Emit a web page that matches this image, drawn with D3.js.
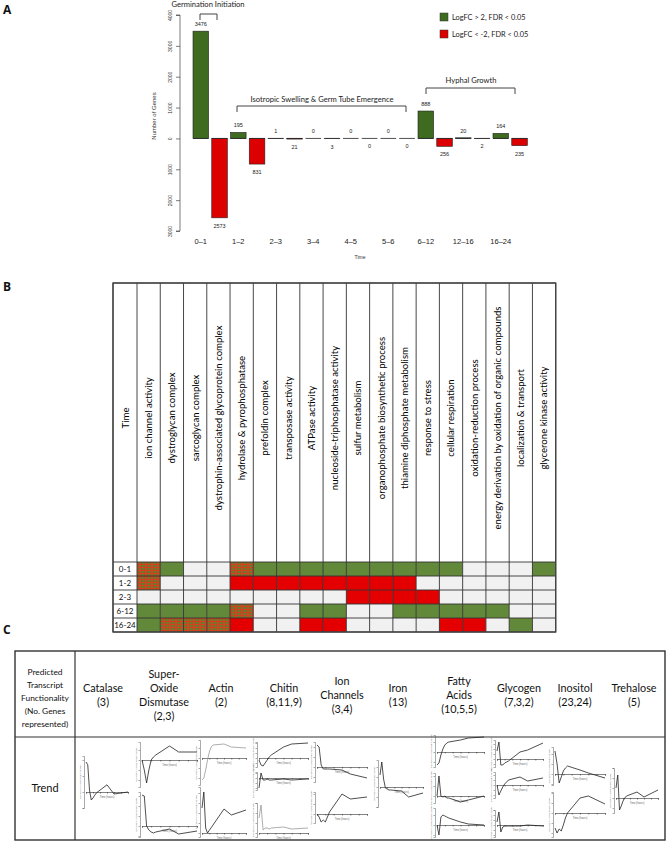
<!DOCTYPE html>
<html><head><meta charset="utf-8">
<script src="https://cdn.jsdelivr.net/npm/d3@7"></script>
<style>body{margin:0;background:#fff}svg{display:block}</style>
</head><body>
<svg id="chart" width="668" height="841"></svg>
<script>
// ---------- Panel A data ----------
const timeLabels = ["0\u20131","1\u20132","2\u20133","3\u20134","4\u20135","5\u20136","6\u201312","12\u201316","16\u201324"];
const upGenes   = [3476,195,1,0,0,0,888,20,164];
const downGenes = [2573,831,21,3,0,0,256,2,235];
const yTickValues = [4000,3000,2000,1000,0,-1000,-2000,-3000];
const legendLabels = ["LogFC > 2, FDR < 0.05","LogFC < -2, FDR < 0.05"];
const phaseLabels = ["Germination Initiation","Isotropic Swelling & Germ Tube Emergence","Hyphal Growth"];

// ---------- Panel B data ----------
const goTerms = ["ion channel activity","dystroglycan complex","sarcoglycan complex","dystrophin-associated glycoprotein complex","hydrolase & pyrophosphatase","prefoldin complex","transposase activity","ATPase activity","nucleoside-triphosphatase activity","sulfur metabolism","organophosphate biosynthetic process","thiamine diphosphate metabolism","response to stress","cellular respiration","oxidation-reduction process","energy derivation by oxidation of organic compounds","localization & transport","glycerone kinase activity"];
const heatRows = ["0-1","1-2","2-3","6-12","16-24"];
// 1 = up, -1 = down, 2 = both, 0 = none
const heat_0_1   = [2,1,0,0,2,1,1,1,1,1,1,1,1,1,0,0,0,1];
const heat_1_2   = [2,0,0,0,-1,-1,-1,-1,-1,-1,-1,-1,0,0,0,0,0,0];
const heat_2_3   = [0,0,0,0,0,0,0,0,0,-1,-1,-1,-1,0,0,0,0,0];
const heat_6_12  = [1,1,1,1,2,0,0,1,1,0,0,1,1,1,1,1,0,0];
const heat_16_24 = [1,2,2,2,-1,0,0,-1,-1,0,0,0,0,-1,-1,0,1,0];

// ---------- Panel C data ----------
const functionLabel = ["Predicted","Transcript","Functionality","(No. Genes","represented)"];
const categories = [["Catalase","(3)"],["Super-","Oxide","Dismutase","(2,3)"],["Actin","(2)"],["Chitin","(8,11,9)"],["Ion","Channels","(3,4)"],["Iron","(13)"],["Fatty","Acids","(10,5,5)"],["Glycogen","(7,3,2)"],["Inositol","(23,24)"],["Trehalose","(5)"]];
const trendHours = [0,1,2,3,4,5,6,12,16,24];
const catalaseTrend = [3.75,3.4,0.25,-1.0,-0.75,-0.4,-0.1,0.9,-0.25,0];
const sodTrendA = [0,-1.0,-2.3,-1.0,0,0.3,0.5,1.4,0.8,0.8];
const sodTrendB = [3.1,3.0,0,-0.4,-0.6,-0.7,-0.6,-0.3,-0.8,-0.5];
const actinTrendA = [-2.2,-2.0,-1.2,-0.2,0.6,1.1,1.3,1.4,1.1,1.0];
const actinTrendB = [2.5,4.1,0.5,0,0.27,0.53,0.8,2.4,1.8,2.3];
const chitinTrendA = [-0.2,-0.7,-0.8,-0.5,-0.2,0.1,0.3,1.1,1.4,1.5];
const chitinTrendB = [-1.0,0.5,-0.2,-0.2,-0.1,-0.2,-0.2,-0.1,-0.2,-0.1];
const chitinTrendC = [1.5,2.8,0.3,0.5,0.5,0.4,0.5,0.6,0.4,0.5];
const ionTrendA = [2.2,2.0,0.2,-0.2,-0.2,-0.2,-0.2,-0.3,-0.7,-1.1];
const ionTrendB = [0,-0.3,-0.8,-0.6,-0.8,-0.3,0.2,2.0,1.5,1.7];
const ironTrend = [1.2,2.5,0.8,-0.1,-0.2,-0.3,-0.3,-0.4,-1.0,-0.6];
const fattyTrendA = [-1.3,-1.1,-0.3,0.3,0.7,0.9,1.0,1.2,1.4,1.5];
const fattyTrendB = [0,2.0,0,-0.1,0,-0.2,-0.2,-0.6,-0.4,0];
const fattyTrendC = [0,-1.0,0.8,1.0,0.9,0.8,0.7,0.3,0.1,0];
const glycogenTrendA = [0.8,1.7,-0.6,-0.6,-0.4,-0.3,-0.2,0.7,0.9,1.6];
const glycogenTrendB = [0,-1.0,-0.6,-0.2,0.1,0.3,0.5,0.8,0.4,0.7];
const glycogenTrendC = [0.3,1.3,-0.7,-0.2,-0.1,-0.1,-0.1,-0.1,0,-0.1];
const inositolTrendA = [2.3,1.0,-0.9,-0.3,0.3,0.6,0.8,0.4,0.1,-0.4];
const inositolTrendB = [-1.5,-2.0,-1.6,-1.8,-1.2,-0.5,0,1.5,1.7,0.9];
const trehaloseTrend = [1.0,2.3,-1.2,-0.8,-0.3,0,0.2,0.6,0.1,0.8];

// ---------- drawing ----------
const svg = d3.select("#chart");
svg.append("rect").attr("width",668).attr("height",841).attr("fill","#fff");
const GREEN_BAR = "#3e6b1f", RED_BAR = "#dd0000";
const GREEN_CELL = "#62893a", RED_CELL = "#e40000", EMPTY_CELL = "#f1f1f1";
const calibri = "Lato, 'Open Sans', sans-serif";
const helv = "'Liberation Sans', Arial, sans-serif";

// panel letters
[["A",3,14],["B",3,291],["C",3,634]].forEach(([t,x,y])=>{
  svg.append("text").attr("x",x).attr("y",y).text(t)
    .attr("font-family","'Open Sans', sans-serif").attr("font-weight","bold").attr("font-size",12).attr("fill","#111");
});

// ===== Panel A =====
const gA = svg.append("g");
const yA = d3.scaleLinear().domain([-3000,4000]).range([231,15]);
const barIdx = d3.range(timeLabels.length*2);
const xA = d3.scaleBand().domain(barIdx).range([189.85,530.5]).paddingInner(0.168).paddingOuter(0.168);
const bars = [];
timeLabels.forEach((t,i)=>{
  bars.push({i:2*i, v:upGenes[i], up:true});
  bars.push({i:2*i+1, v:-downGenes[i], up:false});
});
gA.selectAll("rect.bar").data(bars).join("rect").attr("class","bar")
  .attr("x",d=>xA(d.i)).attr("width",xA.bandwidth())
  .attr("y",d=>yA(Math.max(0,d.v))).attr("height",d=>Math.abs(yA(d.v)-yA(0)))
  .attr("fill",d=>d.up?GREEN_BAR:RED_BAR).attr("stroke","#222").attr("stroke-width",0.6);
gA.selectAll("line.base").data(bars).join("line").attr("class","base")
  .attr("x1",d=>xA(d.i)).attr("x2",d=>xA(d.i)+xA.bandwidth())
  .attr("y1",yA(0)).attr("y2",yA(0)).attr("stroke","#222").attr("stroke-width",0.8);
gA.selectAll("text.val").data(bars).join("text").attr("class","val")
  .attr("x",d=>xA(d.i)+xA.bandwidth()/2)
  .attr("y",d=>d.up? yA(d.v)-5 : yA(d.v)+10)
  .attr("text-anchor","middle").attr("font-family",helv).attr("font-size",5.5).attr("fill","#222")
  .text(d=>Math.abs(d.v));
// y axis
const axA = d3.axisLeft(yA).tickValues(yTickValues).tickSize(4).tickFormat(d=>Math.abs(d));
const gAx = gA.append("g").attr("transform","translate(180,0)").call(axA);
gAx.select(".domain").attr("stroke","#444").attr("stroke-width",0.7).attr("d","M-4,"+yA(4000)+"H0V"+yA(-3000)+"H-4");
gAx.selectAll(".tick line").attr("stroke","#444").attr("stroke-width",0.7);
gAx.selectAll(".tick text").attr("font-family",helv).attr("font-size",5).attr("fill","#333")
  .attr("x",0).attr("y",0).attr("dy",0).attr("text-anchor","middle")
  .attr("transform","translate(-8,0) rotate(-90)");
gA.append("text").attr("transform","translate(156,116) rotate(-90)").attr("text-anchor","middle")
  .attr("font-family",helv).attr("font-size",6).attr("fill","#333").text("Number of Genes");
// x labels
gA.selectAll("text.xl").data(timeLabels).join("text").attr("class","xl")
  .attr("x",(d,i)=>xA(2*i)+xA.bandwidth()/2).attr("y",244)
  .attr("text-anchor","middle").attr("font-family",helv).attr("font-size",7.5).attr("fill","#222").text(d=>d);
gA.append("text").attr("x",360).attr("y",259).attr("text-anchor","middle")
  .attr("font-family",helv).attr("font-size",5).attr("fill","#333").text("Time");
// brackets
const brackets = [
  {label:phaseLabels[0], x1:200, x2:217, y:14, ty:7, tx:208},
  {label:phaseLabels[1], x1:237, x2:406, y:106, ty:102, tx:322},
  {label:phaseLabels[2], x1:426, x2:515, y:88, ty:83, tx:471}
];
brackets.forEach(b=>{
  gA.append("path").attr("d",`M${b.x1},${b.y+6}V${b.y}H${b.x2}V${b.y+6}`)
    .attr("fill","none").attr("stroke","#444").attr("stroke-width",1);
  gA.append("text").attr("x",b.tx).attr("y",b.ty).attr("text-anchor","middle")
    .attr("font-family",calibri).attr("font-size",7.6).attr("fill","#222").text(b.label);
});
// legend
legendLabels.forEach((l,i)=>{
  gA.append("rect").attr("x",440).attr("y",13+i*17).attr("width",8).attr("height",8)
    .attr("fill",i===0?GREEN_BAR:RED_BAR).attr("stroke","#333").attr("stroke-width",0.5);
  gA.append("text").attr("x",452).attr("y",20+i*17).attr("font-family",calibri).attr("font-size",7.4)
    .attr("fill","#222").text(l);
});

// ===== Panel B =====
const defs = svg.append("defs");
const pat = defs.append("pattern").attr("id","hatch").attr("patternUnits","userSpaceOnUse")
  .attr("width",3).attr("height",3);
pat.append("rect").attr("width",3).attr("height",3).attr("fill","#6d7a2c");
pat.append("path").attr("d","M0,0.5H3M0.5,0V3").attr("stroke","#d2401e").attr("stroke-width",1);

const gB = svg.append("g");
const tblLeft = 113, tblTop = 283, headBottom = 562, rowH = 14;
const xB = d3.scaleBand().domain(goTerms).range([137,555.7]);
const yB = d3.scaleBand().domain(heatRows).range([headBottom, headBottom+rowH*heatRows.length]);
const heatData = [heat_0_1,heat_1_2,heat_2_3,heat_6_12,heat_16_24];
const cells = [];
heatData.forEach((r,ri)=>r.forEach((v,ci)=>cells.push({row:heatRows[ri],col:goTerms[ci],v})));
gB.selectAll("rect.cell").data(cells).join("rect").attr("class","cell")
  .attr("x",d=>xB(d.col)).attr("y",d=>yB(d.row)).attr("width",xB.bandwidth()).attr("height",yB.bandwidth())
  .attr("fill",d=>d.v===1?GREEN_CELL:d.v===-1?RED_CELL:d.v===2?"url(#hatch)":EMPTY_CELL);
gB.selectAll("rect.tc").data(heatRows).join("rect").attr("class","tc")
  .attr("x",tblLeft).attr("y",d=>yB(d)).attr("width",137-tblLeft).attr("height",yB.bandwidth()).attr("fill","#fff");
const tblRight = 555.7, tblBottom = headBottom+rowH*heatRows.length;
const vx = [tblLeft,137].concat(goTerms.map(g=>xB(g)+xB.bandwidth()));
gB.selectAll("line.v").data(vx).join("line").attr("class","v")
  .attr("x1",d=>d).attr("x2",d=>d).attr("y1",tblTop).attr("y2",tblBottom)
  .attr("stroke","#333").attr("stroke-width",0.9);
const hy = [tblTop, headBottom].concat(heatRows.map(r=>yB(r)+yB.bandwidth()));
gB.selectAll("line.h").data(hy).join("line").attr("class","h")
  .attr("x1",tblLeft).attr("x2",tblRight).attr("y1",d=>d).attr("y2",d=>d)
  .attr("stroke","#333").attr("stroke-width",0.9);
gB.append("rect").attr("x",tblLeft).attr("y",tblTop).attr("width",tblRight-tblLeft).attr("height",tblBottom-tblTop)
  .attr("fill","none").attr("stroke","#444").attr("stroke-width",1.4);
const headMid = 418;
gB.append("text").attr("transform",`translate(${(tblLeft+137)/2+3.5},${headMid}) rotate(-90)`)
  .attr("text-anchor","middle").attr("font-family",calibri).attr("font-size",9.6).attr("fill","#000").text("Time");
gB.selectAll("text.go").data(goTerms).join("text").attr("class","go")
  .attr("transform",d=>`translate(${xB(d)+xB.bandwidth()/2+3.4},${headMid}) rotate(-90)`)
  .attr("text-anchor","middle").attr("font-family",calibri).attr("font-size",9.6).attr("fill","#000").text(d=>d);
gB.selectAll("text.rl").data(heatRows).join("text").attr("class","rl")
  .attr("x",(tblLeft+137)/2).attr("y",d=>yB(d)+yB.bandwidth()/2+3)
  .attr("text-anchor","middle").attr("font-family",calibri).attr("font-size",8).attr("fill","#111").text(d=>d);

// ===== Panel C =====
const gC = svg.append("g");
const cL = 15, cR = 665, cT = 651, cMid = 737, cB = 840, cDiv = 75;
gC.append("rect").attr("x",cL).attr("y",cT).attr("width",cR-cL).attr("height",cB-cT)
  .attr("fill","none").attr("stroke","#333").attr("stroke-width",1.4);
gC.append("line").attr("x1",cL).attr("x2",cR).attr("y1",cMid).attr("y2",cMid).attr("stroke","#333").attr("stroke-width",1.2);
gC.append("line").attr("x1",cDiv).attr("x2",cDiv).attr("y1",cT).attr("y2",cB).attr("stroke","#333").attr("stroke-width",1.2);
const fcT = gC.append("text").attr("text-anchor","middle").attr("font-family",calibri).attr("font-size",8.4).attr("fill","#111");
functionLabel.forEach((l,i)=>fcT.append("tspan").attr("x",45).attr("y",698+(i-2)*13.2+3).text(l));
gC.append("text").attr("x",45).attr("y",792).attr("text-anchor","middle").attr("font-family",calibri)
  .attr("font-size",11).attr("fill","#111").text("Trend");
const catCenters = [103,164,221,284,342,398,459,519,575,634];
categories.forEach((lines,ci)=>{
  const t = gC.append("text").attr("text-anchor","middle").attr("font-family",calibri).attr("font-size",10.8).attr("fill","#111");
  const n = lines.length;
  lines.forEach((l,i)=>t.append("tspan").attr("x",catCenters[ci]).attr("y",695+(i-(n-1)/2)*14+4).text(l));
});
const minis = [
  {s:catalaseTrend, x:[86,128], y:[756,808], d:[-2,4.5]},
  {s:sodTrendA, x:[142,197], y:[742,787], d:[-2.7,1.8]},
  {s:sodTrendB, x:[142,197], y:[792,837], d:[-1.1,3.4]},
  {s:actinTrendA, x:[202,246], y:[740,785], d:[-2.7,1.8], c:"#999"},
  {s:actinTrendB, x:[202,246], y:[787,837], d:[-0.4,4.6]},
  {s:chitinTrendA, x:[259,308], y:[742,767], d:[-0.9,1.6]},
  {s:chitinTrendB, x:[259,308], y:[772,790], d:[-1.2,0.6]},
  {s:chitinTrendC, x:[259,308], y:[803,837], d:[-0.4,3.0], c:"#999"},
  {s:ionTrendA, x:[317,367], y:[742,782], d:[-1.5,2.5]},
  {s:ionTrendB, x:[317,367], y:[792,823], d:[-0.9,2.2]},
  {s:ironTrend, x:[380,423], y:[760,807], d:[-2.0,2.7]},
  {s:fattyTrendA, x:[437,484], y:[735,767], d:[-1.5,1.7]},
  {s:fattyTrendB, x:[437,484], y:[773,803], d:[-0.7,2.3]},
  {s:fattyTrendC, x:[437,484], y:[808,837], d:[-1.2,1.7]},
  {s:glycogenTrendA, x:[497,543], y:[740,767], d:[-0.8,1.9]},
  {s:glycogenTrendB, x:[497,543], y:[772,798], d:[-1.3,1.3]},
  {s:glycogenTrendC, x:[497,543], y:[810,837], d:[-1.2,1.5]},
  {s:inositolTrendA, x:[555,605], y:[747,785], d:[-1.1,2.7]},
  {s:inositolTrendB, x:[555,605], y:[792,837], d:[-2.4,2.1]},
  {s:trehaloseTrend, x:[616,658], y:[768,813], d:[-1.5,3.0]}
];
minis.forEach(m=>{
  const g = gC.append("g");
  const xs = d3.scaleLinear().domain([0,24]).range(m.x);
  const ys = d3.scaleLinear().domain(m.d).range([m.y[1],m.y[0]]);
  const ya = g.append("g").attr("transform",`translate(${m.x[0]-2},0)`)
    .call(d3.axisLeft(ys).ticks(4).tickSize(1.5).tickFormat(""));
  ya.selectAll("path,line").attr("stroke","#555").attr("stroke-width",0.5);
  const xa = g.append("g").attr("transform",`translate(0,${ys(0)})`)
    .call(d3.axisBottom(xs).tickValues([0,4,8,12,16,20,24]).tickSize(1.5).tickFormat(""));
  xa.selectAll("path,line").attr("stroke","#333").attr("stroke-width",0.6);
  g.append("text").attr("x",(m.x[0]+m.x[1])/2).attr("y",ys(0)+6).attr("text-anchor","middle")
    .attr("font-family",helv).attr("font-size",2.6).attr("fill","#666").text("Time (hours)");
  g.append("text").attr("transform",`translate(${m.x[0]-5},${(m.y[0]+m.y[1])/2}) rotate(-90)`).attr("text-anchor","middle")
    .attr("font-family",helv).attr("font-size",2.4).attr("fill","#666").text("Expression (Log2 Fold Change)");
  g.append("path").datum(m.s).attr("fill","none").attr("stroke",m.c||"#222").attr("stroke-width",0.8)
    .attr("d",d3.line().x((v,i)=>xs(trendHours[i])).y(v=>ys(v)));
});
</script>
</body></html>
